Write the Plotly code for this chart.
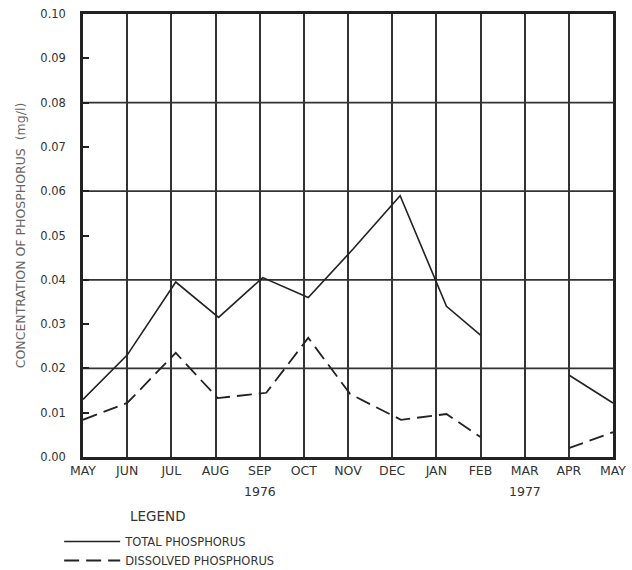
import plotly.graph_objects as go

# Monthly axis: May 1976 (0) through May 1977 (12)
month_labels = ["MAY", "JUN", "JUL", "AUG", "SEP", "OCT", "NOV", "DEC",
                "JAN", "FEB", "MAR", "APR", "MAY"]
month_index = list(range(13))

# Sampling times (months since 1 May 1976) and concentrations (mg/l);
# None marks the March gap in sampling
total_t = [0.0, 1.0, 2.1, 3.07, 4.07, 5.1, 6.12, 7.18, 8.23, 9.0, 10.0, 11.0, 12.0]
total_p = [0.013, 0.023, 0.0395, 0.0315, 0.0405, 0.036, 0.047, 0.059,
           0.034, 0.0275, None, 0.0185, 0.0122]

dissolved_t = [0.0, 1.0, 2.1, 3.05, 4.15, 5.1, 6.05, 7.2, 8.23, 9.0, 10.0, 11.0, 12.0]
dissolved_p = [0.0084, 0.0122, 0.0235, 0.0133, 0.0145, 0.0269, 0.0142,
               0.0084, 0.0097, 0.0045, None, 0.002, 0.0056]

y_ticks = [0.00, 0.01, 0.02, 0.03, 0.04, 0.05, 0.06, 0.07, 0.08, 0.09, 0.10]
y_grid = [0.02, 0.04, 0.06, 0.08]

year_labels = ["1976", "1977"]
year_positions = [4, 10]

INK = "#222222"
GRID = "#333333"
FONT = "DejaVu Sans"

fig = go.Figure()
fig.add_trace(go.Scatter(
    x=total_t, y=total_p, mode="lines", name="TOTAL PHOSPHORUS",
    line=dict(color=INK, width=1.6), connectgaps=False))
fig.add_trace(go.Scatter(
    x=dissolved_t, y=dissolved_p, mode="lines", name="DISSOLVED PHOSPHORUS",
    line=dict(color=INK, width=1.8, dash="15px,7px"), connectgaps=False))

# Horizontal grid lines every 0.02
for g in y_grid:
    fig.add_shape(type="line", xref="paper", x0=0, x1=1, yref="y", y0=g, y1=g,
                  line=dict(color=GRID, width=1.8), layer="below")

# Year captions under the month labels
for lbl, pos in zip(year_labels, year_positions):
    fig.add_annotation(x=pos, xref="x", y=-0.079, yref="paper", text=lbl,
                       showarrow=False, yanchor="middle",
                       font=dict(family=FONT, size=12.5, color="#333333"))

fig.add_annotation(x=0.085, xref="paper", y=-0.133, yref="paper", text="LEGEND",
                   showarrow=False, xanchor="left", yanchor="middle",
                   font=dict(family=FONT, size=13.5, color="#333333"))

fig.update_layout(
    width=632, height=570,
    margin=dict(l=83, r=19, t=14, b=113, autoexpand=False),
    paper_bgcolor="white", plot_bgcolor="white",
    font=dict(family=FONT, color="#333333"),
    showlegend=True,
    legend=dict(x=-0.045, xanchor="left", y=-0.158, yanchor="top",
                orientation="v", itemwidth=56, tracegroupgap=0,
                font=dict(family=FONT, size=11.5, color="#333333"),
                bgcolor="rgba(0,0,0,0)"),
    xaxis=dict(
        range=[0, 12], tickvals=month_index, ticktext=month_labels, ticks="",
        showgrid=True, gridcolor=GRID, gridwidth=1.8,
        showline=True, linecolor=INK, linewidth=2.5, mirror=True,
        tickfont=dict(family=FONT, size=12.5, color="#333333"),
        zeroline=False),
    yaxis=dict(
        range=[0, 0.10], tickvals=y_ticks,
        ticktext=[f"{v:.2f}" for v in y_ticks],
        ticks="inside", ticklen=6, tickwidth=1.6, tickcolor=INK,
        ticklabelstandoff=12,
        showgrid=False, zeroline=False,
        showline=True, linecolor=INK, linewidth=2.5, mirror=True,
        tickfont=dict(family=FONT, size=11.5, color="#333333"),
        title=dict(text="CONCENTRATION OF PHOSPHORUS  (mg/l)", standoff=12,
                   font=dict(family=FONT, size=12.5, color="#666666"))),
)

fig.write_html("out.html")
